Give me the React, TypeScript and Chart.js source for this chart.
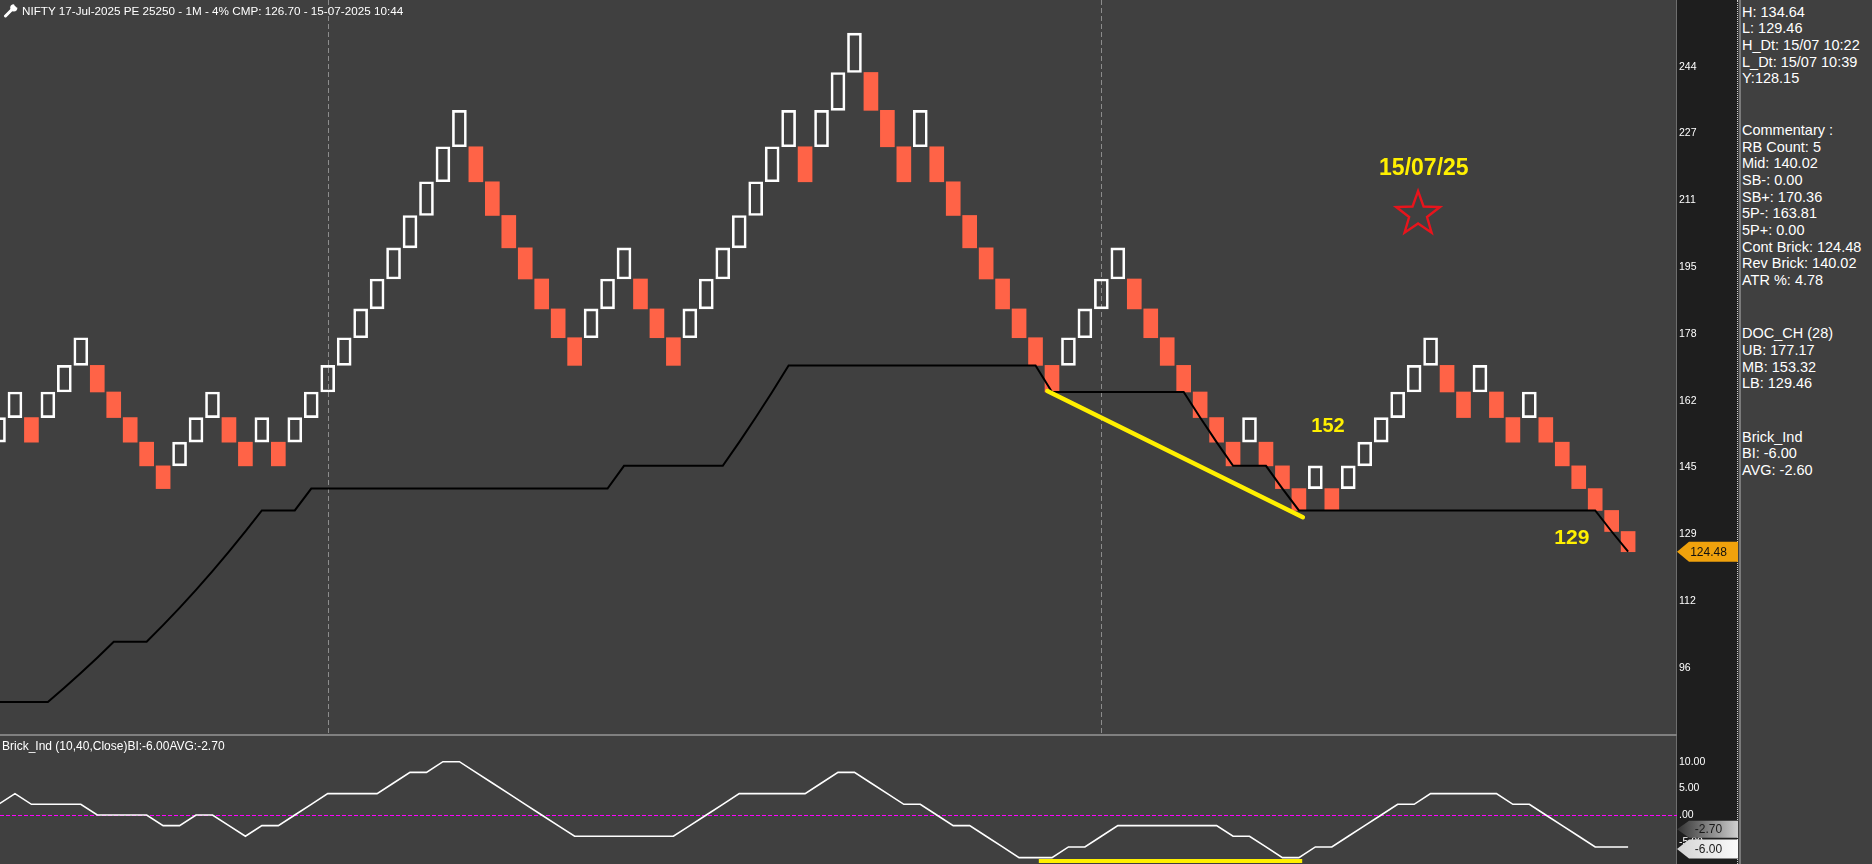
import React, { useEffect, useRef } from "react";
import { Chart, registerables } from "chart.js";

Chart.register(...registerables);

const FONT = "'Liberation Sans', Arial, sans-serif";

// ---------- text ----------
const titleText = "NIFTY 17-Jul-2025 PE 25250 - 1M - 4% CMP: 126.70 - 15-07-2025 10:44";
const indicatorTitle = "Brick_Ind (10,40,Close)BI:-6.00AVG:-2.70";
const statLines = ["H: 134.64", "L: 129.46", "H_Dt: 15/07 10:22", "L_Dt: 15/07 10:39", "Y:128.15"];
const commentaryLines = [
  "Commentary :", "RB Count: 5", "Mid: 140.02", "SB-: 0.00", "SB+: 170.36",
  "5P-: 163.81", "5P+: 0.00", "Cont Brick: 124.48", "Rev Brick: 140.02", "ATR %: 4.78",
];
const docLines = ["DOC_CH (28)", "UB: 177.17", "MB: 153.32", "LB: 129.46"];
const brickIndLines = ["Brick_Ind", "BI: -6.00", "AVG: -2.60"];

// ---------- data (one entry per renko brick) ----------
const brickOpen = [
  151.45, 157.51, 157.51, 157.51, 163.81, 170.36, 170.36, 163.81, 157.51, 151.45,
  145.62, 145.62, 151.45, 157.51, 157.51, 151.45, 151.45, 151.45, 151.45, 157.51,
  163.81, 170.36, 177.17, 184.26, 191.63, 199.30, 207.27, 215.56, 224.18, 224.18,
  215.56, 207.27, 199.30, 191.63, 184.26, 177.17, 177.17, 184.26, 191.63, 191.63,
  184.26, 177.17, 177.17, 184.26, 191.63, 199.30, 207.27, 215.56, 224.18, 224.18,
  224.18, 233.15, 242.48, 242.48, 233.15, 224.18, 224.18, 224.18, 215.56, 207.27,
  199.30, 191.63, 184.26, 177.17, 170.36, 170.36, 177.17, 184.26, 191.63, 191.63,
  184.26, 177.17, 170.36, 163.81, 157.51, 151.45, 151.45, 151.45, 145.62, 140.02,
  140.02, 140.02, 140.02, 145.62, 151.45, 157.51, 163.81, 170.36, 170.36, 163.81,
  163.81, 163.81, 157.51, 157.51, 157.51, 151.45, 145.62, 140.02, 134.64, 129.46,
];
const brickClose = [
  157.51, 163.81, 151.45, 163.81, 170.36, 177.17, 163.81, 157.51, 151.45, 145.62,
  140.02, 151.45, 157.51, 163.81, 151.45, 145.62, 157.51, 145.62, 157.51, 163.81,
  170.36, 177.17, 184.26, 191.63, 199.30, 207.27, 215.56, 224.18, 233.15, 215.56,
  207.27, 199.30, 191.63, 184.26, 177.17, 170.36, 184.26, 191.63, 199.30, 184.26,
  177.17, 170.36, 184.26, 191.63, 199.30, 207.27, 215.56, 224.18, 233.15, 215.56,
  233.15, 242.48, 252.18, 233.15, 224.18, 215.56, 233.15, 215.56, 207.27, 199.30,
  191.63, 184.26, 177.17, 170.36, 163.81, 177.17, 184.26, 191.63, 199.30, 184.26,
  177.17, 170.36, 163.81, 157.51, 151.45, 145.62, 157.51, 145.62, 140.02, 134.64,
  145.62, 134.64, 145.62, 151.45, 157.51, 163.81, 170.36, 177.17, 163.81, 157.51,
  170.36, 157.51, 151.45, 163.81, 151.45, 145.62, 140.02, 134.64, 129.46, 124.48,
];
// Donchian channel lower band (28)
const docLower = [
  87.46, 87.46, 87.46, 87.46, 90.96, 94.60, 98.38, 102.31, 102.31, 102.31,
  106.41, 110.66, 115.09, 119.69, 124.48, 129.46, 134.64, 134.64, 134.64, 140.02,
  140.02, 140.02, 140.02, 140.02, 140.02, 140.02, 140.02, 140.02, 140.02, 140.02,
  140.02, 140.02, 140.02, 140.02, 140.02, 140.02, 140.02, 140.02, 145.62, 145.62,
  145.62, 145.62, 145.62, 145.62, 145.62, 151.45, 157.51, 163.81, 170.36, 170.36,
  170.36, 170.36, 170.36, 170.36, 170.36, 170.36, 170.36, 170.36, 170.36, 170.36,
  170.36, 170.36, 170.36, 170.36, 163.81, 163.81, 163.81, 163.81, 163.81, 163.81,
  163.81, 163.81, 163.81, 157.51, 151.45, 145.62, 145.62, 145.62, 140.02, 134.64,
  134.64, 134.64, 134.64, 134.64, 134.64, 134.64, 134.64, 134.64, 134.64, 134.64,
  134.64, 134.64, 134.64, 134.64, 134.64, 134.64, 134.64, 134.64, 129.46, 124.48,
];
// Brick_Ind
const brickInd = [
  2, 4, 2, 2, 2, 2, 0, 0, 0, 0,
  -2, -2, 0, 0, -2, -4, -2, -2, 0, 2,
  4, 4, 4, 4, 6, 8, 8, 10, 10, 8,
  6, 4, 2, 0, -2, -4, -4, -4, -4, -4,
  -4, -4, -2, 0, 2, 4, 4, 4, 4, 4,
  6, 8, 8, 6, 4, 2, 2, 0, -2, -2,
  -4, -6, -8, -8, -8, -6, -6, -4, -2, -2,
  -2, -2, -2, -2, -2, -4, -4, -6, -8, -8,
  -6, -6, -4, -2, 0, 2, 2, 4, 4, 4,
  4, 4, 2, 2, 0, -2, -4, -6, -6, -6,
];

const priceTicks = [243.9, 227.45, 211.0, 194.55, 178.1, 161.65, 145.2, 128.75, 112.3, 95.85];
const indTicks = [10, 5, 0, -5];
const sessionBreaks = [20, 67];
const trendX = [63.72, 79.24];
const trendY = [164.05, 132.96];
const indBarX = [63.2, 79.2];
const indBarY = [-8.63, -8.63];
const noteLabels = ["15/07/25", "152", "129"];
const noteX = [86.59, 80.77, 95.58];
const noteY = [218.7, 155.43, 127.86];
const starX = [86.24];
const starY = [207.6];
const lastPrice = 124.48;
const indTagValues = [-2.7, -6.0];
const indTagLabels = ["-2.70", "-6.00"];

// ---------- view ----------
const X_MIN = 0.091;
const X_MAX = 101.97;
const PRICE_MIN = 79.6;
const PRICE_MAX = 260.32;
const IND_MIN = -9.2;
const IND_MAX = 14.82;
const AXIS_W = 61;
const noteSizes = [23, 20, 21];
const YELLOW = "#fff000";
const BG = "#404040";

function drawTag(ctx: any, x0: number, x1: number, cy: number, h: number, fill: any, text: string, color: string) {
  const head = 12;
  ctx.save();
  ctx.beginPath();
  ctx.moveTo(x0, cy);
  ctx.lineTo(x0 + head, cy - h / 2);
  ctx.lineTo(x1, cy - h / 2);
  ctx.lineTo(x1, cy + h / 2);
  ctx.lineTo(x0 + head, cy + h / 2);
  ctx.closePath();
  ctx.fillStyle = fill;
  ctx.fill();
  ctx.fillStyle = color;
  ctx.font = `12px ${FONT}`;
  ctx.textAlign = "center";
  ctx.textBaseline = "middle";
  ctx.fillText(text, (x0 + x1) / 2 + 1, cy + 0.5);
  ctx.restore();
}

const mainDecor = {
  id: "mainDecor",
  beforeDatasetsDraw(chart: any) {
    const { ctx, chartArea, scales } = chart;
    ctx.save();
    ctx.strokeStyle = "#8c8c8c";
    ctx.lineWidth = 1;
    ctx.setLineDash([5, 3]);
    sessionBreaks.forEach((v) => {
      const px = Math.round(scales.x.getPixelForValue(v)) + 0.5;
      ctx.beginPath();
      ctx.moveTo(px, chartArea.top);
      ctx.lineTo(px, chartArea.bottom);
      ctx.stroke();
    });
    ctx.restore();
  },
  afterDatasetsDraw(chart: any) {
    const { ctx, scales } = chart;
    ctx.save();
    ctx.fillStyle = YELLOW;
    ctx.textAlign = "center";
    ctx.textBaseline = "middle";
    noteLabels.forEach((t, i) => {
      ctx.font = `bold ${noteSizes[i]}px ${FONT}`;
      ctx.fillText(t, scales.x.getPixelForValue(noteX[i]), scales.y.getPixelForValue(noteY[i]));
    });
    starX.forEach((sx, i) => {
      const cx = scales.x.getPixelForValue(sx);
      const cy = scales.y.getPixelForValue(starY[i]);
      ctx.beginPath();
      for (let k = 0; k < 10; k++) {
        const r = k % 2 === 0 ? 23 : 9.4;
        const a = -Math.PI / 2 + (k * Math.PI) / 5;
        const px = cx + r * Math.cos(a);
        const py = cy + r * Math.sin(a);
        if (k === 0) ctx.moveTo(px, py);
        else ctx.lineTo(px, py);
      }
      ctx.closePath();
      ctx.strokeStyle = "#e8141c";
      ctx.lineWidth = 2.4;
      ctx.lineJoin = "miter";
      ctx.stroke();
    });
    ctx.restore();
  },
  afterDraw(chart: any) {
    const { ctx, chartArea, scales } = chart;
    drawTag(ctx, chartArea.right, chart.width, scales.y.getPixelForValue(lastPrice), 20, "#f0a20c", lastPrice.toFixed(2), "#111111");
  },
};

const indDecor = {
  id: "indDecor",
  beforeDatasetsDraw(chart: any) {
    const { ctx, chartArea, scales } = chart;
    const py = Math.round(scales.y.getPixelForValue(0)) + 0.5;
    ctx.save();
    ctx.strokeStyle = "#ff00ff";
    ctx.lineWidth = 1;
    ctx.setLineDash([4, 2]);
    ctx.beginPath();
    ctx.moveTo(chartArea.left, py);
    ctx.lineTo(chartArea.right, py);
    ctx.stroke();
    ctx.restore();
  },
  afterDraw(chart: any) {
    const { ctx, chartArea, scales } = chart;
    const x0 = chartArea.right;
    const x1 = chart.width;
    const g1 = ctx.createLinearGradient(x0, 0, x1, 0);
    g1.addColorStop(0, "#333333");
    g1.addColorStop(1, "#cfcfcf");
    const g2 = ctx.createLinearGradient(x0, 0, x1, 0);
    g2.addColorStop(0, "#d4d4d4");
    g2.addColorStop(1, "#fafafa");
    const fills = [g1, g2];
    const heights = [17, 19];
    const nudge = [0, 2];
    indTagValues.forEach((v, i) => {
      drawTag(ctx, x0, x1, scales.y.getPixelForValue(v) + nudge[i], heights[i], fills[i], indTagLabels[i], "#1a1a1a");
    });
  },
};

export default function App() {
  const mainRef = useRef<HTMLCanvasElement>(null);
  const indRef = useRef<HTMLCanvasElement>(null);

  useEffect(() => {
    document.body.style.margin = "0";
    document.body.style.background = BG;

    const brickData = brickOpen.map((o, i) => ({ x: i, y: [o, brickClose[i]] }));
    const isUp = brickOpen.map((o, i) => brickClose[i] > o);

    const main = new Chart(mainRef.current as HTMLCanvasElement, {
      type: "bar",
      data: {
        datasets: [
          {
            type: "line",
            data: docLower.map((v, i) => ({ x: i, y: v })),
            borderColor: "#000000",
            borderWidth: 2,
            pointRadius: 0,
            tension: 0,
            fill: false,
            order: 2,
          } as any,
          {
            type: "line",
            data: trendX.map((x, i) => ({ x, y: trendY[i] })),
            borderColor: YELLOW,
            borderWidth: 4.5,
            borderCapStyle: "round",
            pointRadius: 0,
            fill: false,
            order: 1,
          } as any,
          {
            type: "bar",
            data: brickData,
            backgroundColor: isUp.map((u) => (u ? "rgba(0,0,0,0)" : "#ff6347")),
            borderColor: isUp.map((u) => (u ? "#ffffff" : "#ff6347")),
            borderWidth: isUp.map((u) => (u ? 2 : 0)),
            borderSkipped: false,
            barThickness: 14,
            order: 3,
          } as any,
        ],
      },
      options: {
        animation: false,
        responsive: false,
        devicePixelRatio: 1,
        layout: { padding: 0 },
        plugins: { legend: { display: false }, tooltip: { enabled: false } },
        scales: {
          x: { type: "linear", min: X_MIN, max: X_MAX, offset: false, display: false },
          y: {
            type: "linear",
            position: "right",
            min: PRICE_MIN,
            max: PRICE_MAX,
            bounds: "data",
            grid: { display: false, drawTicks: false },
            border: { display: false },
            ticks: {
              color: "#ffffff",
              font: { family: FONT, size: 10.5 },
              padding: 2,
              autoSkip: false,
              callback: (v: any) => String(Math.round(Number(v))),
            },
            afterBuildTicks: (s: any) => {
              s.ticks = priceTicks.map((v) => ({ value: v }));
            },
            afterFit: (s: any) => {
              s.width = AXIS_W;
              s.paddingTop = 0;
              s.paddingBottom = 0;
            },
          },
        },
      } as any,
      plugins: [mainDecor],
    });

    const ind = new Chart(indRef.current as HTMLCanvasElement, {
      type: "line",
      data: {
        datasets: [
          {
            data: brickInd.map((v, i) => ({ x: i, y: v })),
            borderColor: "#ffffff",
            borderWidth: 1.6,
            pointRadius: 0,
            tension: 0,
            fill: false,
            order: 2,
          },
          {
            data: indBarX.map((x, i) => ({ x, y: indBarY[i] })),
            borderColor: YELLOW,
            borderWidth: 4,
            pointRadius: 0,
            fill: false,
            order: 1,
          },
        ],
      },
      options: {
        animation: false,
        responsive: false,
        devicePixelRatio: 1,
        layout: { padding: 0 },
        plugins: { legend: { display: false }, tooltip: { enabled: false } },
        scales: {
          x: { type: "linear", min: X_MIN, max: X_MAX, offset: false, display: false },
          y: {
            type: "linear",
            position: "right",
            min: IND_MIN,
            max: IND_MAX,
            bounds: "data",
            grid: { display: false, drawTicks: false },
            border: { display: false },
            ticks: {
              color: "#ffffff",
              font: { family: FONT, size: 10.5 },
              padding: 2,
              autoSkip: false,
              callback: (v: any) => (Number(v) === 0 ? ".00" : Number(v).toFixed(2)),
            },
            afterBuildTicks: (s: any) => {
              s.ticks = indTicks.map((v) => ({ value: v }));
            },
            afterFit: (s: any) => {
              s.width = AXIS_W;
              s.paddingTop = 0;
              s.paddingBottom = 0;
            },
          },
        },
      } as any,
      plugins: [indDecor],
    });

    return () => {
      main.destroy();
      ind.destroy();
    };
  }, []);

  const lineH = 16.67;
  const block = (lines: string[], firstCenter: number) =>
    lines.map((t, i) => (
      <div
        key={t + i}
        style={{
          position: "absolute",
          left: 1742,
          top: firstCenter + i * lineH - 9,
          height: 18,
          lineHeight: "18px",
          fontSize: 14.5,
          color: "#ffffff",
          whiteSpace: "nowrap",
        }}
      >
        {t}
      </div>
    ));

  return (
    <div
      style={{
        position: "relative",
        width: 1872,
        height: 864,
        background: BG,
        overflow: "hidden",
        fontFamily: FONT,
      }}
    >
      {/* price axis strip */}
      <div style={{ position: "absolute", left: 1677, top: 0, width: 61, height: 864, background: "#1e1e1e" }} />
      <div style={{ position: "absolute", left: 1676, top: 0, width: 1, height: 864, background: "#6e6e6e" }} />
      <div style={{ position: "absolute", left: 1737, top: 0, width: 0, height: 864, borderLeft: "1px dotted #d0d0d0" }} />
      <div style={{ position: "absolute", left: 1739, top: 0, width: 2, height: 864, background: "#7a7a7a" }} />
      {/* panel separator */}
      <div style={{ position: "absolute", left: 0, top: 734, width: 1677, height: 2, background: "#808080" }} />

      <canvas ref={mainRef} width={1738} height={734} style={{ position: "absolute", left: 0, top: 0 }} />
      <canvas ref={indRef} width={1738} height={128} style={{ position: "absolute", left: 0, top: 736 }} />

      {/* chart title */}
      <svg width="16" height="14" viewBox="0 0 16 14" style={{ position: "absolute", left: 3, top: 4 }}>
        <path d="M2.5 12 L8.5 6" stroke="#ffffff" strokeWidth="3" strokeLinecap="round" />
        <circle cx="10.8" cy="3.8" r="3.6" fill="#ffffff" />
        <path d="M11.6 0 L15 3.2" stroke={BG} strokeWidth="2.4" />
      </svg>
      <div
        style={{
          position: "absolute",
          left: 22,
          top: 3,
          height: 16,
          lineHeight: "16px",
          fontSize: 11.7,
          color: "#ffffff",
          whiteSpace: "nowrap",
        }}
      >
        {titleText}
      </div>
      <div
        style={{
          position: "absolute",
          left: 2,
          top: 738,
          height: 16,
          lineHeight: "16px",
          fontSize: 12,
          color: "#ffffff",
          whiteSpace: "nowrap",
        }}
      >
        {indicatorTitle}
      </div>

      {block(statLines, 11.7)}
      {block(commentaryLines, 130)}
      {block(docLines, 333.3)}
      {block(brickIndLines, 436.7)}
    </div>
  );
}
